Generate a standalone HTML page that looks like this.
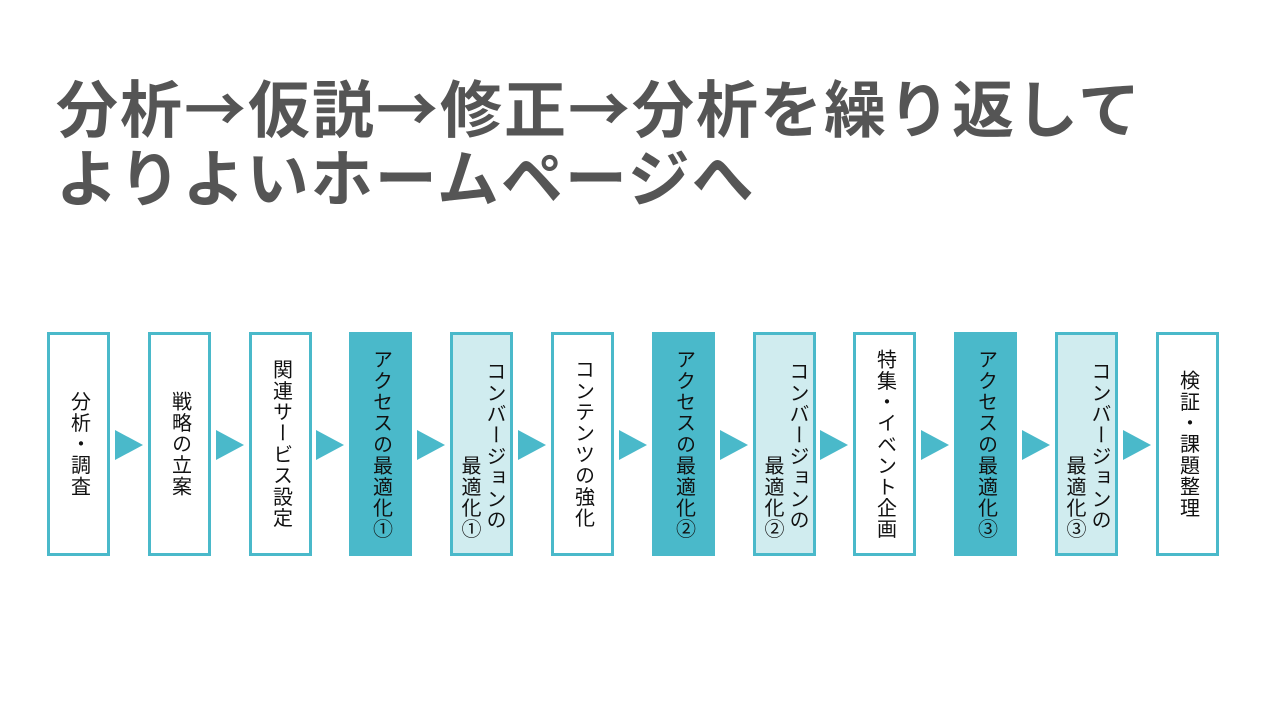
<!DOCTYPE html>
<html><head><meta charset="utf-8"><style>
body{margin:0;width:1280px;height:720px;background:#fff;position:relative;overflow:hidden;font-family:"Liberation Sans","Noto Sans CJK JP",sans-serif;}
.t{position:absolute;left:56px;top:71px;font-family:"Noto Sans CJK JP",sans-serif;font-size:62px;font-weight:bold;color:#555;line-height:69px;white-space:nowrap;letter-spacing:2px;}
.b{position:absolute;top:332px;width:63px;height:224px;box-sizing:border-box;border:3px solid #4ab9ca;background:#fff;display:flex;align-items:center;justify-content:center;}
.b span{writing-mode:vertical-rl;font-size:20px;letter-spacing:1.2px;color:#111;line-height:1;}
.d{background:#4ab9ca;}
.l{background:#d0ecef;}
.c{position:absolute;writing-mode:vertical-rl;font-size:20px;letter-spacing:1.2px;color:#111;line-height:1;}
.a{position:absolute;top:430px;width:0;height:0;border-top:15px solid transparent;border-bottom:15px solid transparent;border-left:28px solid #4ab9ca;}
</style></head><body>
<div class="t">分析→仮説→修正→分析を繰り返して<br>よりよいホームページへ</div>

<div class="b" style="left:47px"><span>分析・調査</span></div>
<div class="b" style="left:148px"><span>戦略の立案</span></div>
<div class="b" style="left:249px"><span>関連サービス設定</span></div>
<div class="b d" style="left:349px"><span>アクセスの最適化①</span></div>
<div class="b l" style="left:450px"></div>
<div class="b" style="left:551px"><span>コンテンツの強化</span></div>
<div class="b d" style="left:652px"><span>アクセスの最適化②</span></div>
<div class="b l" style="left:753px"></div>
<div class="b" style="left:853px"><span>特集・イベント企画</span></div>
<div class="b d" style="left:954px"><span>アクセスの最適化③</span></div>
<div class="b l" style="left:1055px"></div>
<div class="b" style="left:1156px"><span>検証・課題整理</span></div>

<div class="c" style="left:484px;top:361px">コンバージョンの</div>
<div class="c" style="left:459px;top:455px">最適化①</div>
<div class="c" style="left:787px;top:361px">コンバージョンの</div>
<div class="c" style="left:762px;top:455px">最適化②</div>
<div class="c" style="left:1089px;top:361px">コンバージョンの</div>
<div class="c" style="left:1064px;top:455px">最適化③</div>

<div class="a" style="left:115px"></div>
<div class="a" style="left:216px"></div>
<div class="a" style="left:316px"></div>
<div class="a" style="left:417px"></div>
<div class="a" style="left:518px"></div>
<div class="a" style="left:619px"></div>
<div class="a" style="left:720px"></div>
<div class="a" style="left:820px"></div>
<div class="a" style="left:921px"></div>
<div class="a" style="left:1022px"></div>
<div class="a" style="left:1123px"></div>
</body></html>
